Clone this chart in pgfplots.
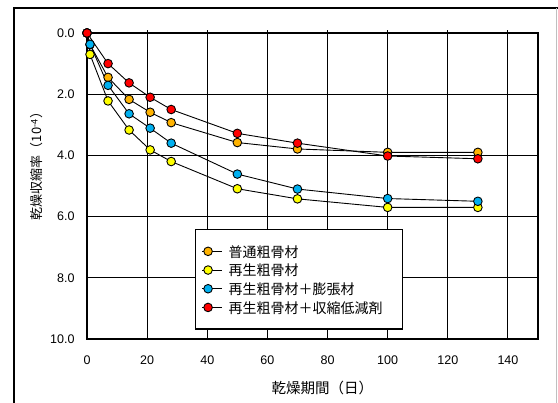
\documentclass[border=0pt]{standalone}
\usepackage{pgfplots}
\pgfplotsset{compat=1.18}
\usepackage{fontspec}
\setmainfont{Liberation Sans}
\newfontfamily\jp{Noto Sans CJK JP}
\definecolor{cOrange}{HTML}{FFB300}
\definecolor{cYellow}{HTML}{FFFF00}
\definecolor{cBlue}{HTML}{00B0F0}
\definecolor{cRed}{HTML}{FF0000}
\begin{document}
\begin{tikzpicture}
\useasboundingbox (0pt,0pt) rectangle (558pt,403pt);
\draw[line width=1.3pt] (14pt,-5pt) -- (14pt,395pt) -- (563pt,395pt);
\draw[black!25, line width=1pt] (556.5pt,395pt) -- (556.5pt,-5pt);
\begin{axis}[
  at={(87pt,64pt)}, anchor=south west, scale only axis,
  width=451pt, height=306pt,
  xmin=0, xmax=150, ymin=0, ymax=10, y dir=reverse,
  xtick={0,20,...,140}, ytick={0,2,...,10},
  grid=major, major grid style={black, line width=0.9pt},
  axis line style={line width=1.3pt},
  xtick pos=right, xticklabel pos=left, xtick align=outside,
  major tick length=2.5pt, tick style={black, line width=0.9pt},
  ytick style={draw=none},
  /pgf/number format/assume math mode=true,
  yticklabel style={/pgf/number format/.cd, fixed, fixed zerofill, precision=1, /tikz/.cd, xshift=-9pt},
  xticklabel style={yshift=-11pt},
  ticklabel style={font=\fontsize{12.5}{14}\selectfont},
  xlabel={\jp 乾燥期間（日）},
  ylabel={\jp 乾燥収縮率（10\textsuperscript{-4}）},
  xlabel style={at={(axis description cs:0.522,-0.16)}, anchor=center, font=\fontsize{14.5}{16}\selectfont},
  ylabel style={at={(axis description cs:-0.111,0.575)}, anchor=center, font=\fontsize{13}{15}\selectfont},
  legend style={at={(axis description cs:0.2395,0.359)}, anchor=north west,
    draw=black, line width=1.2pt, font=\jp\fontsize{14}{16}\selectfont,
    nodes={inner sep=0pt, text height=14.5pt, text depth=2.7pt},
    inner xsep=6pt, inner ysep=13pt, row sep=1.5pt, column sep=6pt, fill=white},
  legend cell align=left,
  legend image code/.code={\path (0pt,0pt) -- (20pt,0pt); \draw[#1] plot coordinates {(6pt,0pt)};},
  every axis plot/.append style={black, line width=0.9pt, mark=*, mark size=4.3pt},
]
\addplot[mark options={fill=cOrange, draw=black}] coordinates {(0,0)(1,0.38)(7,1.45)(14,2.17)(21,2.59)(28,2.93)(50,3.58)(70,3.79)(100,3.90)(130,3.90)};
\addlegendentry{普通粗骨材}
\addplot[mark options={fill=cYellow, draw=black}] coordinates {(0,0)(1,0.70)(7,2.22)(14,3.17)(21,3.82)(28,4.20)(50,5.09)(70,5.42)(100,5.70)(130,5.70)};
\addlegendentry{再生粗骨材}
\addplot[mark options={fill=cBlue, draw=black}] coordinates {(0,0)(1,0.37)(7,1.71)(14,2.64)(21,3.11)(28,3.60)(50,4.61)(70,5.10)(100,5.41)(130,5.50)};
\addlegendentry{再生粗骨材＋膨張材}
\addplot[mark options={fill=cRed, draw=black}] coordinates {(0,0)(7,1.00)(14,1.63)(21,2.10)(28,2.50)(50,3.28)(70,3.60)(100,4.02)(130,4.11)};
\addlegendentry{再生粗骨材＋収縮低減剤\hspace*{14pt}}
\end{axis}
\end{tikzpicture}
\end{document}
